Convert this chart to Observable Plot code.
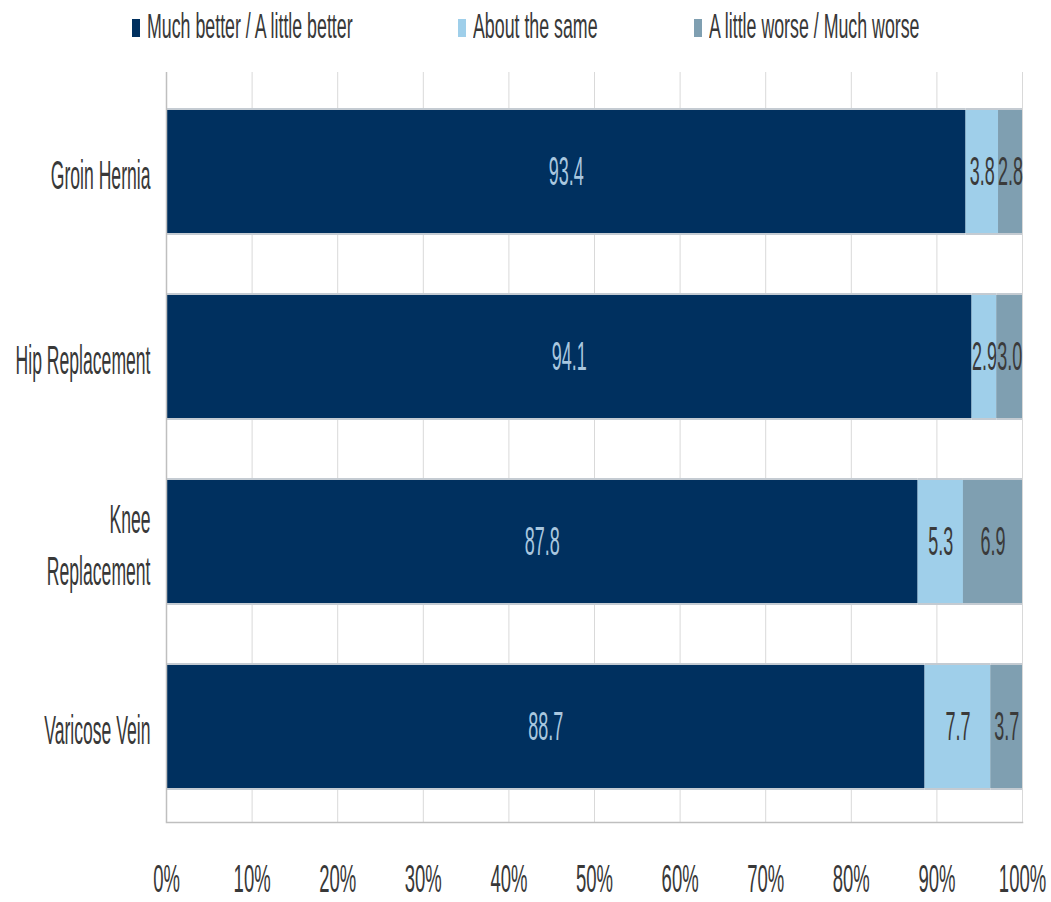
<!DOCTYPE html>
<html>
<head>
<meta charset="utf-8">
<script src="https://cdn.jsdelivr.net/npm/d3@7"></script>
<script src="https://cdn.jsdelivr.net/npm/@observablehq/plot@0.6"></script>
<style>
  html, body { margin: 0; padding: 0; background: #fff; }
  #wrap { width: 1051px; font-family: "Liberation Sans", Arial, sans-serif; color: #383838; }
  #legend { position: relative; height: 60px; font-size: 17.8px; }
  .item { position: absolute; top: 0; height: 56px; display: flex; align-items: center; white-space: nowrap; }
  .sw { width: 8px; height: 18px; margin-right: 7px; }
  .lt { display: inline-block; transform: scaleY(1.95); line-height: 1; }
</style>
</head>
<body>
<div id="wrap">
  <div id="legend"></div>
  <div id="chart"></div>
</div>
<script>
// ---- data ----
const categories = ["Groin Hernia", "Hip Replacement", "Knee Replacement", "Varicose Vein"];
const categoryLabels = ["Groin Hernia", "Hip Replacement", "Knee\nReplacement", "Varicose Vein"];
const series = ["Much better / A little better", "About the same", "A little worse / Much worse"];
const better = [93.4, 94.1, 87.8, 88.7];
const same = [3.8, 2.9, 5.3, 7.7];
const worse = [2.8, 3.0, 6.9, 3.7];
const xTicks = [0, 0.1, 0.2, 0.3, 0.4, 0.5, 0.6, 0.7, 0.8, 0.9, 1];

// ---- style ----
const colors = ["#00305f", "#9fcfea", "#7f9fb1"];
const legendX = [132, 458, 694];

const values = [better, same, worse];
const data = [];
categories.forEach((c, i) => {
  series.forEach((s, j) => data.push({category: c, series: s, value: values[j][i]}));
});

// legend
const legend = document.getElementById("legend");
series.forEach((s, j) => {
  const it = document.createElement("div");
  it.className = "item";
  it.style.left = legendX[j] + "px";
  const sw = document.createElement("span");
  sw.className = "sw";
  sw.style.background = colors[j];
  const lt = document.createElement("span");
  lt.className = "lt";
  lt.textContent = s;
  it.appendChild(sw); it.appendChild(lt);
  legend.appendChild(it);
});

const stackOpts = {x: "value", y: "category", z: "series", offset: "normalize"};

const plot = Plot.plot({
  width: 1051,
  height: 842,
  marginTop: 12,
  marginBottom: 80,
  marginLeft: 166,
  marginRight: 29,
  style: {fontFamily: "'Liberation Sans', Arial, sans-serif", fontSize: "17.6px", color: "#383838", background: "#fff"},
  x: {domain: [0, 1]},
  y: {domain: categories, paddingInner: 0.333, paddingOuter: 0.183, align: 0.53},
  color: {domain: series, range: colors},
  marks: [
    Plot.gridX(xTicks, {stroke: "#d9d9d9", strokeOpacity: 1}),
    Plot.barX(data, Plot.stackX({...stackOpts, fill: "#c4cbd2", insetTop: -2, insetBottom: -2})),
    Plot.barX(data, Plot.stackX({...stackOpts, fill: "series"})),
    Plot.text(data, Plot.stackX({...stackOpts, text: d => d.series === series[0] ? d.value.toFixed(1) : "", fill: "#a9c7df", fontSize: 18})),
    Plot.text(data, Plot.stackX({...stackOpts, text: d => d.series !== series[0] ? d.value.toFixed(1) : "", fill: "#3a3a3a", fontSize: 18})),
    Plot.ruleX([0], {stroke: "#bfbfbf", strokeWidth: 1.5}),
    Plot.frame({anchor: "bottom", stroke: "#bfbfbf", strokeWidth: 1.5}),
    Plot.axisX({ticks: xTicks, tickFormat: d3.format(".0%"), tickSize: 0, tickPadding: 42, fontSize: 18.5, anchor: "bottom", fill: "#383838", label: null}),
    Plot.axisY({tickSize: 0, tickPadding: 16, tickFormat: d => categoryLabels[categories.indexOf(d)], lineHeight: 1.3, fill: "#383838", label: null})
  ]
});

function stretch(nodes, sy) {
  nodes.forEach(el => {
    const t = el.getAttribute("transform");
    if (t) {
      el.setAttribute("transform", t + ` scale(1,${sy})`);
    } else {
      const x = +el.getAttribute("x") || 0, y = +el.getAttribute("y") || 0;
      el.setAttribute("transform", `translate(${x},${y}) scale(1,${sy})`);
      el.removeAttribute("x"); el.removeAttribute("y");
    }
  });
}
stretch(plot.querySelectorAll('g[aria-label="x-axis tick label"] text'), 2.1);
stretch(plot.querySelectorAll('g[aria-label="y-axis tick label"] text'), 2.3);
stretch(plot.querySelectorAll('g[aria-label="text"] text'), 2.3);

document.getElementById("chart").appendChild(plot);
</script>
</body>
</html>
